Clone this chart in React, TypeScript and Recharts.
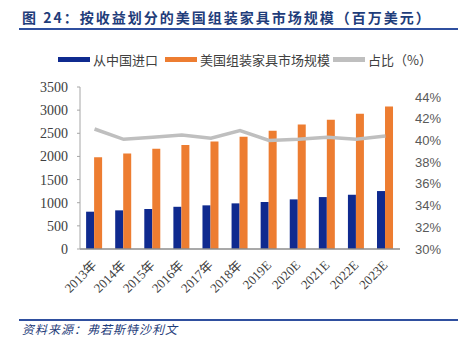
import {
  ComposedChart,
  Bar,
  Line,
  XAxis,
  YAxis,
} from 'recharts';

const years = [
  '2013年', '2014年', '2015年', '2016年', '2017年', '2018年',
  '2019E', '2020E', '2021E', '2022E', '2023E',
];
const chinaImports = [806, 835, 864, 912, 943, 986, 1015, 1072, 1122, 1172, 1252];
const usMarket = [1980, 2065, 2165, 2245, 2325, 2425, 2555, 2690, 2792, 2922, 3080];
const shareRatio = [41.05, 40.1, 40.3, 40.5, 40.2, 40.9, 40.0, 40.1, 40.3, 40.1, 40.4];

const leftTicks = [0, 500, 1000, 1500, 2000, 2500, 3000, 3500];
const rightTicks = [30, 32, 34, 36, 38, 40, 42, 44];

const data = years.map((year, i) => ({
  year,
  china: chinaImports[i],
  market: usMarket[i],
  share: shareRatio[i],
}));

const BLUE = '#0f2a8f';
const ORANGE = '#ed7d31';
const GREY = '#bfbfbf';

function YearTick({ x, y, payload }: { x?: number; y?: number; payload?: { value: string } }) {
  return (
    <text
      x={0}
      y={0}
      transform={`translate(${(x ?? 0) + 3},${(y ?? 0) + 9}) rotate(-45)`}
      textAnchor="end"
      fontSize={13}
      fontFamily="'Liberation Serif', 'Noto Sans CJK SC', serif"
      fill="#404040"
    >
      {payload?.value}
    </text>
  );
}

function LegendRow() {
  const item = (color: string, label: string, left: number) => (
    <div style={{ position: 'absolute', left, top: 50, display: 'flex', alignItems: 'center' }}>
      <span style={{ width: 32, height: 5, background: color, display: 'inline-block', marginRight: 3 }} />
      <span>{label}</span>
    </div>
  );
  return (
    <div style={{ fontSize: 13, color: '#404040', fontFamily: "'Noto Sans CJK SC', sans-serif" }}>
      {item(BLUE, '从中国进口', 58)}
      {item(ORANGE, '美国组装家具市场规模', 165)}
      {item(GREY, '占比（%）', 333)}
    </div>
  );
}

export default function App() {
  return (
    <div style={{ position: 'fixed', left: 0, top: 0, width: 463, height: 338, background: '#fff' }}>
      <div
        style={{
          position: 'absolute',
          left: 22,
          top: 7,
          fontSize: 14,
          fontWeight: 'bold',
          letterSpacing: 2,
          color: '#1f3d7a',
          fontFamily: "'Noto Sans CJK SC', sans-serif",
          whiteSpace: 'nowrap',
          lineHeight: '20px',
        }}
      >
        图 24：按收益划分的美国组装家具市场规模（百万美元）
      </div>
      <div style={{ position: 'absolute', left: 19, top: 28, width: 439, height: 2, background: '#2f4f9f' }} />
      <LegendRow />

      <ComposedChart
        width={463}
        height={338}
        data={data}
        margin={{ top: 87, right: 0, bottom: 19, left: 0 }}
        barCategoryGap="21%"
        barGap={0}
      >
        <XAxis
          dataKey="year"
          interval={0}
          tick={<YearTick />}
          tickLine={false}
          axisLine={{ stroke: '#8c8c8c', strokeWidth: 1.5 }}
          height={70}
        />
        <YAxis
          yAxisId="left"
          width={80}
          domain={[0, 3500]}
          ticks={leftTicks}
          interval={0}
          axisLine={{ stroke: '#a6a6a6' }}
          tickLine={{ stroke: '#a6a6a6' }}
          tickSize={3}
          tickMargin={9}
          tick={{ fontSize: 14, fill: '#404040', fontFamily: "'Liberation Serif', serif" }}
        />
        <YAxis
          yAxisId="right"
          orientation="right"
          width={63}
          domain={[30, 44.92]}
          ticks={rightTicks}
          interval={0}
          axisLine={false}
          tickLine={false}
          tickSize={0}
          tickMargin={15}
          tickFormatter={(v: number) => `${v}%`}
          tick={{ fontSize: 13, fill: '#595959', fontFamily: "'Liberation Sans', sans-serif" }}
        />
        <Bar yAxisId="left" dataKey="china" fill={BLUE} isAnimationActive={false} />
        <Bar yAxisId="left" dataKey="market" fill={ORANGE} isAnimationActive={false} />
        <Line
          yAxisId="right"
          dataKey="share"
          stroke={GREY}
          strokeWidth={3.5}
          dot={false}
          activeDot={false}
          isAnimationActive={false}
        />
      </ComposedChart>

      <div style={{ position: 'absolute', left: 19, top: 319, width: 439, height: 1.5, background: '#2f4f9f' }} />
      <div
        style={{
          position: 'absolute',
          left: 22,
          top: 321,
          fontSize: 12,
          fontStyle: 'italic',
          letterSpacing: 1,
          color: '#1f3d7a',
          fontFamily: "'Noto Sans CJK SC', sans-serif",
          whiteSpace: 'nowrap',
          lineHeight: '16px',
        }}
      >
        资料来源：弗若斯特沙利文
      </div>
    </div>
  );
}
